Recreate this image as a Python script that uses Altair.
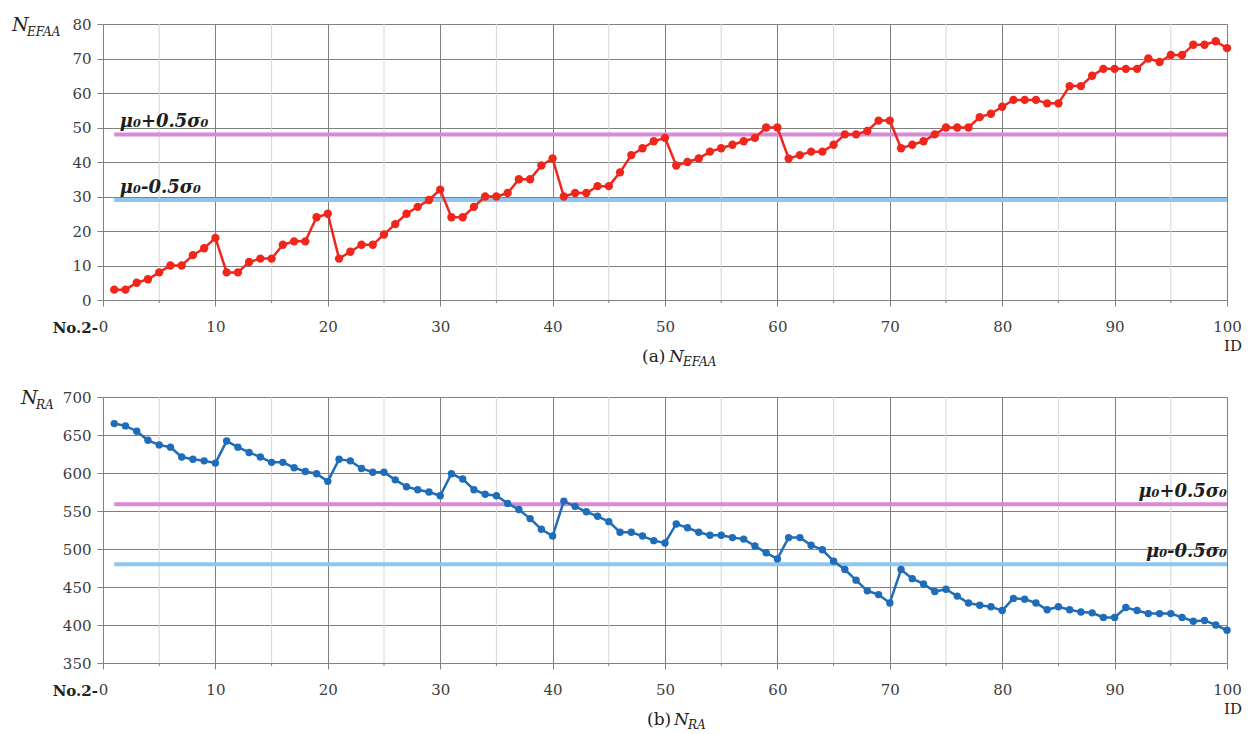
import altair as alt
import pandas as pd

# ---- data -----------------------------------------------------------------
ids = list(range(1, 101))

n_efaa = [3, 3, 5, 6, 8, 10, 10, 13, 15, 18,
          8, 8, 11, 12, 12, 16, 17, 17, 24, 25,
          12, 14, 16, 16, 19, 22, 25, 27, 29, 32,
          24, 24, 27, 30, 30, 31, 35, 35, 39, 41,
          30, 31, 31, 33, 33, 37, 42, 44, 46, 47,
          39, 40, 41, 43, 44, 45, 46, 47, 50, 50,
          41, 42, 43, 43, 45, 48, 48, 49, 52, 52,
          44, 45, 46, 48, 50, 50, 50, 53, 54, 56,
          58, 58, 58, 57, 57, 62, 62, 65, 67, 67,
          67, 67, 70, 69, 71, 71, 74, 74, 75, 73]

n_ra = [665, 662, 655, 643, 637, 634, 621, 618, 616, 613,
        642, 634, 627, 621, 614, 614, 607, 602, 599, 589,
        618, 616, 606, 601, 601, 591, 582, 578, 575, 570,
        599, 592, 578, 572, 570, 560, 552, 540, 526, 517,
        563, 556, 549, 543, 536, 522, 522, 517, 511, 508,
        533, 528, 522, 518, 518, 515, 513, 504, 495, 487,
        515, 515, 505, 499, 484, 473, 459, 445, 440, 429,
        473, 461, 454, 444, 447, 438, 429, 426, 424, 419,
        435, 434, 429, 420, 424, 420, 417, 416, 410, 410,
        423, 419, 415, 415, 415, 410, 405, 406, 400, 393]

band_labels = ["μ₀+0.5σ₀", "μ₀-0.5σ₀"]
band_colors = ["#d98ad6", "#8ec6ef"]
efaa_bands = [48, 29]
ra_bands = [559, 480]

x_major = list(range(0, 101, 10))
x_minor = list(range(5, 100, 10))
efaa_ticks = list(range(0, 81, 10))
ra_ticks = list(range(350, 701, 50))

SERIF = "DejaVu Serif"
W = 1124
GRID = "#808080"
LABEL = "#3c3c3c"


def text_at(txt, x, y, size, style="normal", weight="normal", align="left",
            baseline="alphabetic"):
    return alt.Chart(pd.DataFrame({"t": [txt]})).mark_text(
        font=SERIF, fontSize=size, fontStyle=style, fontWeight=weight,
        align=align, baseline=baseline, color="#222222"
    ).encode(x=alt.value(x), y=alt.value(y), text="t:N")


def panel(values, color, ticks, bands, h, sub, letter, sub_title_x,
          cap_x, band_x, band_align, marker_size):
    xs = alt.Scale(domain=[0, 100], nice=False, zero=False)
    ys = alt.Scale(domain=[ticks[0], ticks[-1]], nice=False, zero=False)
    x_axis = alt.Axis(
        values=x_major, grid=True, gridColor=GRID, gridWidth=1,
        domain=True, domainColor=GRID, tickColor=GRID, tickSize=6,
        labelFont=SERIF, labelFontSize=15, labelColor=LABEL,
        labelPadding=13, labelFlush=False, title=None)
    y_axis = alt.Axis(
        values=ticks, grid=True, gridColor=GRID, gridWidth=1,
        domain=False, tickColor=GRID, tickSize=6,
        labelFont=SERIF, labelFontSize=15, labelColor=LABEL,
        labelPadding=6, labelFlush=False, title=None)

    series = pd.DataFrame({"id": ids, "v": values})
    minor = pd.DataFrame({"id": x_minor})
    band_df = pd.DataFrame({"v": bands, "c": band_colors, "t": band_labels,
                            "id": [1] * 2, "id2": [100] * 2,
                            "lx": [band_x] * 2})

    minor_grid = alt.Chart(minor).mark_rule(color="#d6d6d6", strokeWidth=1).encode(
        x=alt.X("id:Q", scale=xs, axis=x_axis), y=alt.value(0), y2=alt.value(h))
    minor_ticks = alt.Chart(minor).mark_rule(color=GRID, strokeWidth=1).encode(
        x=alt.X("id:Q", scale=xs, axis=x_axis), y=alt.value(h), y2=alt.value(h + 3))

    band_rules = alt.Chart(band_df).mark_rule(strokeWidth=4).encode(
        x=alt.X("id:Q", scale=xs, axis=x_axis), x2="id2:Q",
        y=alt.Y("v:Q", scale=ys, axis=y_axis),
        color=alt.Color("c:N", scale=None))

    line = alt.Chart(series).mark_line(
        color=color, strokeWidth=2.5,
        point=alt.OverlayMarkDef(filled=True, size=marker_size, color=color, opacity=1)
    ).encode(
        x=alt.X("id:Q", scale=xs, axis=x_axis),
        y=alt.Y("v:Q", scale=ys, axis=y_axis),
    )

    band_text = alt.Chart(band_df).mark_text(
        font=SERIF, fontSize=18, fontWeight="bold", fontStyle="italic",
        align=band_align, baseline="alphabetic", dy=-7, color="#1e1e1e"
    ).encode(x=alt.X("lx:Q", scale=xs, axis=x_axis),
             y=alt.Y("v:Q", scale=ys, axis=y_axis), text="t:N")

    origin_lbl = alt.Chart(pd.DataFrame({"id": [0], "t": ["No.2-"]})).mark_text(
        font=SERIF, fontSize=15, fontWeight="bold", align="right",
        baseline="middle", dx=-5, color="#222222"
    ).encode(x=alt.X("id:Q", scale=xs, axis=x_axis), y=alt.value(h + 28), text="t:N")

    layers = [
        minor_grid, minor_ticks, band_rules, line, band_text, origin_lbl,
        # y-axis name with subscript
        text_at("N", sub_title_x, 7, 19, style="italic"),
        text_at(sub, sub_title_x + 15, 12, 12, style="italic"),
        # x-axis name
        text_at("ID", 1130, h + 46, 15, align="center", baseline="middle"),
        # caption below the panel
        text_at(f"({letter})", cap_x, h + 62, 17),
        text_at("N", cap_x + 27, h + 62, 17, style="italic"),
        text_at(sub, cap_x + 41, h + 66, 12, style="italic"),
    ]
    return alt.layer(*layers).properties(width=W, height=h)


top = panel(n_efaa, "#f0261c", efaa_ticks, efaa_bands, 276, "EFAA", "a",
            -91, 539, 1.5, "left", 70)
bottom = panel(n_ra, "#1f6cb8", ra_ticks, ra_bands, 266, "RA", "b",
               -82, 544, 100, "right", 55)

chart = alt.vconcat(top, bottom, spacing=97, bounds="flush").properties(
    padding={"left": 12, "top": 16, "right": 5, "bottom": 0},
    background="white",
).configure_view(strokeWidth=0)

chart.save("out.html", embed_options={"renderer": "svg", "actions": False})
